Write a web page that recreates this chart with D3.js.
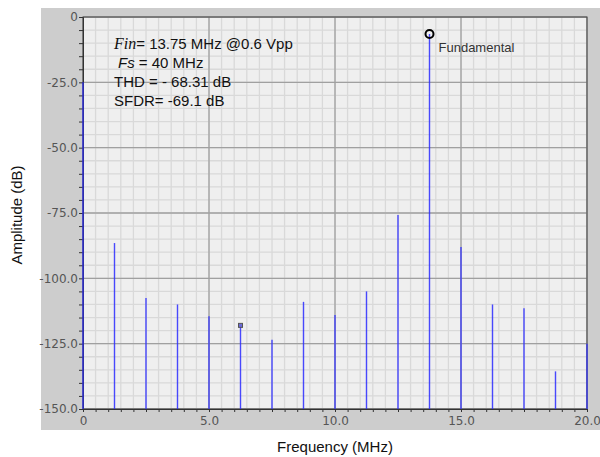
<!DOCTYPE html>
<html>

<head>
    <meta charset='utf-8'>
    <title>Spectrum</title>
    <script type='text/javascript' src='https://cdn.jsdelivr.net/npm/d3@7'></script>
    <style>
        body { margin: 0; background: #fff; }
    </style>
</head>

<body>
    <svg width='600' height='457'></svg>
    <script type='text/javascript'>
        // 频谱数据
        const freqs = [0, 1.25, 2.5, 3.75, 5, 6.25, 7.5, 8.75, 10, 11.25, 12.5, 13.75, 15, 16.25, 17.5, 18.75, 20]
        const amps = [-25, -86.5, -107.5, -110, -114.5, -118, -123.5, -109, -114, -105, -75.8, -6.5, -88, -110, -111.4, -135.6, -125]
        const xTicks = [0, 5, 10, 15, 20]
        const yTicks = [0, -25, -50, -75, -100, -125, -150]
        const notes = ['= 13.75 MHz @0.6 Vpp', ' = 40 MHz', 'THD = - 68.31 dB', 'SFDR= -69.1 dB']
        const fundIdx = 11
        const markIdx = 5

        const svg = d3.select('svg')
        const pLeft = 83, pRight = 587, pTop = 17, pBottom = 409

        const x = d3.scaleLinear().domain([0, 20]).range([pLeft, pRight])
        const y = d3.scaleLinear().domain([0, -150]).range([pTop, pBottom])

        // 灰色外框背景
        svg.append('rect').attr('x', 41).attr('y', 8).attr('width', 559).attr('height', 422).attr('fill', '#cdcdcd')
        svg.append('rect').attr('x', pLeft).attr('y', pTop).attr('width', pRight - pLeft).attr('height', pBottom - pTop).attr('fill', '#efefef')

        // 网格线
        const g = svg.append('g')
        g.selectAll('.vmin').data(d3.range(0, 20.01, 0.5)).enter().append('line')
            .attr('x1', d => x(d)).attr('x2', d => x(d)).attr('y1', pTop).attr('y2', pBottom)
            .attr('stroke', '#d9d9d9').attr('stroke-width', 1.3)
        g.selectAll('.hmin').data(d3.range(0, -150.01, -5)).enter().append('line')
            .attr('y1', d => y(d)).attr('y2', d => y(d)).attr('x1', pLeft).attr('x2', pRight)
            .attr('stroke', '#d9d9d9').attr('stroke-width', 1.3)
        g.selectAll('.vmaj').data(xTicks).enter().append('line')
            .attr('x1', d => x(d)).attr('x2', d => x(d)).attr('y1', pTop).attr('y2', pBottom)
            .attr('stroke', '#a0a0a0').attr('stroke-width', 1.3)
        g.selectAll('.hmaj').data(yTicks).enter().append('line')
            .attr('y1', d => y(d)).attr('y2', d => y(d)).attr('x1', pLeft).attr('x2', pRight)
            .attr('stroke', '#a0a0a0').attr('stroke-width', 1.3)

        // 边框
        svg.append('rect').attr('x', pLeft).attr('y', pTop).attr('width', pRight - pLeft).attr('height', pBottom - pTop)
            .attr('fill', 'none').attr('stroke', '#444').attr('stroke-width', 1)

        // 坐标轴
        const fmt = d => d === 0 ? '0' : d.toFixed(1)
        const yAxis = d3.axisLeft(y).tickValues(d3.range(0, -150.01, -5)).tickSize(4).tickPadding(1)
            .tickFormat(d => d % 25 === 0 ? fmt(d) : '')
        const yg = svg.append('g').attr('transform', `translate(${pLeft},0)`).call(yAxis)
        const xAxis = d3.axisBottom(x).tickValues(d3.range(0, 20.01, 0.5)).tickSize(3).tickPadding(4)
            .tickFormat(d => d % 5 === 0 ? fmt(d) : '')
        const xg = svg.append('g').attr('transform', `translate(0,${pBottom})`).call(xAxis)
        for (const a of [yg, xg]) {
            a.select('.domain').attr('stroke', '#333')
            a.selectAll('.tick line').attr('stroke', '#333')
            a.selectAll('.tick text').attr('fill', '#555').attr('font-family', 'DejaVu Sans').attr('font-size', 12)
        }

        // 谱线
        svg.append('g').selectAll('line').data(freqs).enter().append('line')
            .attr('x1', d => x(d)).attr('x2', d => x(d))
            .attr('y1', y(-150)).attr('y2', (d, i) => y(amps[i]))
            .attr('stroke', '#2a2aff').attr('stroke-opacity', 0.85).attr('stroke-width', 1.4)

        // 标记
        svg.append('circle').attr('cx', x(freqs[fundIdx])).attr('cy', y(amps[fundIdx])).attr('r', 4)
            .attr('fill', 'none').attr('stroke', '#000').attr('stroke-width', 2)
        svg.append('rect').attr('x', x(freqs[markIdx]) - 2).attr('y', y(amps[markIdx]) - 2)
            .attr('width', 4).attr('height', 4).attr('fill', '#6b6bd8').attr('stroke', '#555').attr('stroke-width', 1)
        svg.append('text').attr('x', x(freqs[fundIdx]) + 9).attr('y', y(amps[fundIdx]) + 18)
            .attr('font-family', 'Liberation Sans').attr('font-size', 13).attr('fill', '#333').text('Fundamental')

        // 注释文字
        const t = svg.append('g').attr('font-family', 'Liberation Sans').attr('font-size', 15).attr('fill', '#111')
        const t1 = t.append('text').attr('x', 114).attr('y', 49)
        t1.append('tspan').attr('font-family', 'Liberation Serif').attr('font-style', 'italic').attr('font-size', 16).text('Fin')
        t1.append('tspan').text(notes[0])
        const t2 = t.append('text').attr('x', 118).attr('y', 68)
        t2.append('tspan').attr('font-style', 'italic').text('Fs')
        t2.append('tspan').text(notes[1])
        t.append('text').attr('x', 114).attr('y', 87).text(notes[2])
        t.append('text').attr('x', 114).attr('y', 106).text(notes[3])

        // 轴标题
        svg.append('text').attr('x', 335).attr('y', 452).attr('text-anchor', 'middle')
            .attr('font-family', 'Liberation Sans').attr('font-size', 15).attr('fill', '#111').text('Frequency (MHz)')
        svg.append('text').attr('transform', 'translate(22,215) rotate(-90)').attr('text-anchor', 'middle')
            .attr('font-family', 'Liberation Sans').attr('font-size', 15).attr('fill', '#111').text('Amplitude (dB)')
    </script>
</body>

</html>
